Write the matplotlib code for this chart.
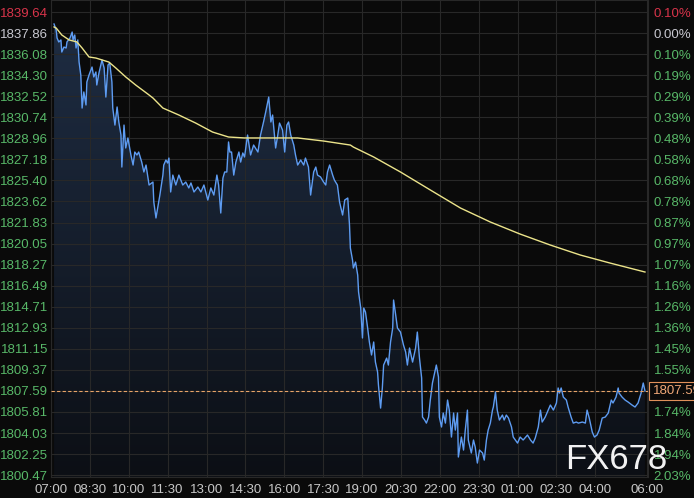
import matplotlib
matplotlib.use('Agg')
import matplotlib.pyplot as plt
import matplotlib.transforms as mtransforms
import numpy as np
from matplotlib.colors import LinearSegmentedColormap

# price line, minutes after 07:00
minutes = [7, 12, 14, 18, 23, 25, 30, 35, 37, 44, 49, 51, 55, 58, 62, 65, 69, 72, 76, 81,
           83, 88, 95, 99, 104, 106, 111, 118, 123, 127, 132, 136, 141, 143, 148, 153, 157, 162, 164, 169,
           173, 178, 185, 190, 194, 199, 203, 210, 215, 220,
           227, 236, 238, 243, 247, 252, 259, 261, 266, 270, 273, 277, 282, 289, 296, 305, 312, 319, 324, 331,
           340, 347, 354, 363, 370, 377, 384, 388, 393, 398, 402, 407, 411, 414, 418, 423, 428, 435, 439, 444, 448,
           455, 462, 469, 479, 485, 492, 497, 504, 509, 513, 520, 525, 529, 536, 541, 546, 550, 555, 562, 566,
           571, 578, 585, 589, 596, 601, 608, 613, 617, 624, 631, 636, 640, 645, 652, 656, 663, 668, 675, 680,
           687, 691,
           693, 698, 700, 705, 710, 712, 717, 721, 724, 728, 733, 737, 742, 747, 751, 756, 758, 763, 767, 770,
           777, 781, 786, 791, 793, 797, 802, 809, 816, 821, 825, 830, 837, 839, 844, 848, 853, 858,
           860, 865, 869, 874, 878, 883, 888, 892, 897, 899, 904, 908, 913, 918, 922, 927, 932, 936, 941, 943,
           950, 955, 959, 964, 966, 973, 978, 982, 987, 992, 999, 1003, 1008, 1012, 1017, 1022, 1024, 1029, 1033, 1038,
           1045, 1049, 1054, 1059, 1066, 1070, 1080, 1086, 1093, 1103, 1110, 1116,
           1121, 1128, 1133, 1137, 1144, 1151, 1156, 1163, 1170, 1174, 1177, 1181, 1186, 1193, 1197, 1204, 1209, 1216, 1221, 1230,
           1237, 1241, 1246, 1253, 1258, 1264, 1269, 1276, 1283, 1290, 1297, 1301, 1308, 1313, 1315, 1322, 1329, 1336, 1345, 1352,
           1359, 1366, 1371, 1375]
prices = [1838.63, 1838.12, 1837.45, 1837.11, 1837.28, 1836.26, 1836.68, 1836.60, 1837.11, 1837.45, 1837.95, 1837.28, 1837.70, 1836.60, 1837.28, 1835.41, 1834.31, 1831.52, 1832.88, 1831.78,
          1833.72, 1834.31, 1834.99, 1834.15, 1834.57, 1833.47, 1834.48, 1835.58, 1834.91, 1832.45, 1835.16, 1835.33, 1833.72, 1831.52, 1830.08, 1831.61, 1830.34, 1829.24, 1826.53, 1830.08,
          1828.14, 1828.99, 1827.55, 1826.70, 1827.80, 1827.55, 1827.80, 1826.95, 1826.11, 1826.70,
          1825.01, 1825.26, 1823.57, 1822.22, 1823.06, 1824.16, 1825.85, 1826.70, 1827.12, 1826.87, 1827.29, 1824.42, 1825.85, 1825.01, 1825.85, 1825.01, 1825.26, 1824.76, 1825.18, 1824.42,
          1824.84, 1824.42, 1825.01, 1823.74, 1824.76, 1824.16, 1825.85, 1825.01, 1822.64, 1825.60, 1826.11, 1826.11, 1828.65, 1827.80, 1827.80, 1825.85, 1826.95, 1827.80, 1826.95, 1827.72, 1827.38,
          1829.24, 1827.55, 1828.39, 1827.80, 1829.24, 1830.34, 1831.18, 1832.45, 1830.34, 1830.93, 1828.14, 1829.24, 1830.25, 1829.66, 1827.80, 1830.08, 1830.34, 1829.24, 1828.39, 1827.55,
          1826.70, 1827.12, 1826.70, 1827.29, 1826.53, 1824.16, 1826.11, 1826.53, 1825.85, 1825.69, 1825.26, 1825.01, 1826.11, 1826.70, 1825.85, 1825.43, 1825.01, 1823.57, 1822.47, 1823.74,
          1823.91, 1821.62,
          1819.68, 1818.66, 1817.99, 1818.49, 1817.39, 1815.96, 1814.60, 1812.07, 1814.60, 1814.26, 1812.91, 1811.73, 1810.63, 1811.73, 1810.03, 1809.19, 1808.09, 1806.14, 1807.84, 1809.78,
          1810.37, 1809.78, 1811.73, 1812.91, 1815.28, 1814.26, 1812.91, 1812.57, 1811.47, 1810.88, 1809.78, 1811.22, 1810.03, 1810.37, 1811.22, 1812.57, 1810.37, 1808.68,
          1805.38, 1805.13, 1804.87, 1805.38, 1806.82, 1808.26, 1809.10, 1809.78, 1808.77, 1805.38, 1804.54, 1805.72, 1804.87, 1806.82, 1805.97, 1803.69, 1805.72, 1804.28, 1805.72, 1802.00,
          1803.69, 1802.59, 1804.28, 1805.97, 1803.44, 1802.34, 1803.44, 1802.84, 1801.49, 1802.59, 1802.34, 1801.74, 1803.44, 1804.28, 1804.87, 1805.97, 1806.23, 1807.50, 1805.97, 1805.13,
          1805.55, 1805.13, 1805.55, 1805.30, 1804.54, 1803.69, 1803.18, 1803.69, 1803.44, 1803.86, 1803.44, 1803.18,
          1803.61, 1804.54, 1805.97, 1804.96, 1805.38, 1805.97, 1806.40, 1805.97, 1806.57, 1807.84, 1807.41, 1807.84, 1807.07, 1806.82, 1806.23, 1805.38, 1804.87, 1804.96, 1804.87, 1804.96,
          1804.87, 1805.97, 1805.30, 1804.11, 1803.69, 1803.86, 1804.28, 1805.30, 1805.38, 1805.72, 1806.82, 1806.57, 1807.07, 1807.84, 1807.41, 1807.07, 1806.82, 1806.65, 1806.40, 1806.23,
          1806.57, 1807.41, 1808.26, 1807.59]

# yellow average line
avgMinutes = [7, 12, 25, 42, 60, 72, 88, 104, 134, 150, 173, 196, 224, 236, 259, 296, 335, 374, 411, 448,
              515, 571, 631, 693, 700, 747, 809, 878, 948, 1017, 1086, 1156, 1225, 1294, 1375]
avgPrices = [1838.38, 1838.29, 1837.70, 1837.28, 1837.11, 1836.60, 1835.84, 1835.75, 1835.41, 1834.91,
             1834.15, 1833.47, 1832.71, 1832.37, 1831.52, 1830.93, 1830.25, 1829.49, 1829.07, 1828.99,
             1828.99, 1828.99, 1828.73, 1828.39, 1828.22, 1827.38, 1826.11, 1824.59, 1823.06, 1821.88,
             1820.86, 1819.93, 1819.09, 1818.41, 1817.65]

yTicks = [1839.64, 1837.86, 1836.08, 1834.30, 1832.52, 1830.74, 1828.96, 1827.18, 1825.40, 1823.62, 1821.83, 1820.05,
          1818.27, 1816.49, 1814.71, 1812.93, 1811.15, 1809.37, 1807.59, 1805.81, 1804.03, 1802.25, 1800.47]
pctLabels = ['0.10%', '0.00%', '0.10%', '0.19%', '0.29%', '0.39%', '0.48%', '0.58%', '0.68%', '0.78%', '0.87%', '0.97%',
             '1.07%', '1.16%', '1.26%', '1.36%', '1.45%', '1.55%', '1.65%', '1.74%', '1.84%', '1.94%', '2.03%']
xTickMinutes = [0, 90, 180, 270, 360, 450, 540, 630, 720, 810, 900, 990, 1080, 1170, 1260, 1380]
xTickLabels = ['07:00', '08:30', '10:00', '11:30', '13:00', '14:30', '16:00', '17:30', '19:00', '20:30',
               '22:00', '23:30', '01:00', '02:30', '04:00', '06:00']
lastPrice = 1807.59

bgColor = '#0a0a0a'
gridColor = '#282828'
upColor = '#d8344a'
downColor = '#58b868'
flatColor = '#c8c8d0'

plt.rcParams['font.family'] = ['Liberation Sans', 'DejaVu Sans']

fig = plt.figure(figsize=(6.94, 4.98), dpi=100)
fig.patch.set_facecolor(bgColor)
ax = fig.add_axes([51/694, 21/498, 597/694, 477/498])
ax.set_facecolor(bgColor)
xMin, xMax = 0, 1382
yMin, yMax = 1800.31, 1840.66
ax.set_xlim(xMin, xMax)
ax.set_ylim(yMin, yMax)

# gradient fill under the price line
poly = ax.fill_between(minutes, prices, yMin, color='none', lw=0)
grad = np.linspace(1, 0, 256).reshape(-1, 1)
cmap = LinearSegmentedColormap.from_list('fillGrad', ['#0c0f15', '#1f2e45'])
img = ax.imshow(grad, extent=[xMin, xMax, yMin, yMax], aspect='auto', cmap=cmap, origin='upper', zorder=1)
img.set_clip_path(poly.get_paths()[0], transform=ax.transData)

ax.set_xticks(xTickMinutes)
ax.set_xticklabels(xTickLabels)
ax.set_yticks(yTicks)
ax.set_yticklabels(['%.2f' % v for v in yTicks])
ax.grid(True, color=gridColor, lw=0.8)
ax.tick_params(axis='both', length=0, labelsize=9.5)
ax.tick_params(axis='x', colors='#c8c8c8', pad=5)
ax.tick_params(axis='y', pad=2)
for i, lab in enumerate(ax.get_yticklabels()):
    if i == 0: lab.set_color(upColor)
    elif i == 1: lab.set_color(flatColor)
    else: lab.set_color(downColor)
for s in ax.spines.values():
    s.set_color(gridColor)

ax.plot(minutes, prices, color='#5e9cf2', lw=1.0, zorder=3)
ax.plot(avgMinutes, avgPrices, color='#ece48a', lw=1.0, zorder=3)
ax.axhline(lastPrice, color='#e8a468', lw=0.8, ls=(0, (3, 2)), zorder=4)

ax2 = ax.twinx()
ax2.set_ylim(yMin, yMax)
ax2.set_yticks(yTicks)
ax2.set_yticklabels(pctLabels)
ax2.tick_params(axis='y', length=0, labelsize=9.5, pad=4)
for i, lab in enumerate(ax2.get_yticklabels()):
    if i == 0: lab.set_color(upColor)
    elif i == 1: lab.set_color(flatColor)
    else: lab.set_color(downColor)
for s in ax2.spines.values():
    s.set_visible(False)

# last price tag on the right
trans = mtransforms.blended_transform_factory(ax.transAxes, ax.transData)
ax2.text(1.008, lastPrice, '%.2f' % lastPrice, transform=trans, ha='left', va='center', fontsize=9.5,
         color='#f0a878', zorder=6,
         bbox=dict(boxstyle='square,pad=0.25', facecolor=bgColor, edgecolor='#e0905a', lw=0.8))

fig.text(565/694, 22/498, 'FX678', color='white', fontsize=25, ha='left', va='bottom', alpha=0.95)

plt.savefig('out.png', dpi=100, facecolor=bgColor)
